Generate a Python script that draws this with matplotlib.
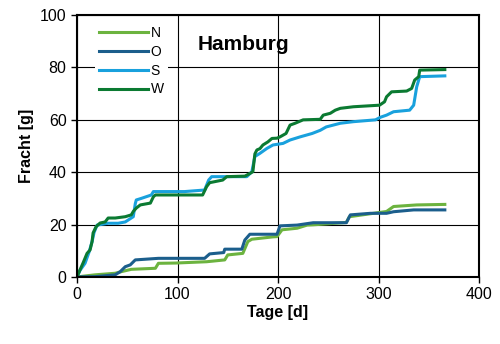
import matplotlib.pyplot as plt

plt.rcParams['font.family'] = ['Liberation Sans', 'DejaVu Sans']

# Werte (Tag, kumulierte Fracht in g)
n_tage = [0, 18, 38, 44, 54, 78, 81, 98, 129, 147, 150, 165, 170, 174, 195,
          199, 204, 219, 229, 235, 268, 271, 308, 315, 338, 366]
n_fracht = [0, 0.8, 1.4, 2, 2.9, 3.3, 5.2, 5.3, 5.8, 6.5, 8.4, 9, 13.5, 14.4, 15.3,
            15.4, 18, 18.6, 19.8, 19.9, 20.8, 23, 25, 26.9, 27.5, 27.7]

o_tage = [0, 18, 38, 43, 48, 53, 58, 81, 101, 127, 132, 146, 147, 164, 167,
          172, 199, 202, 219, 235, 268, 272, 292, 308, 315, 335, 366]
o_fracht = [0, 0.1, 0.8, 2, 3.9, 4.6, 6.5, 7.1, 7.1, 7.1, 8.8, 9.3, 10.6, 10.6, 14.1,
            16.3, 16.3, 19.5, 19.8, 20.7, 20.7, 23.7, 24.3, 24.3, 24.9, 25.6, 25.6]

s_tage = [0, 3, 8, 12, 15, 17, 20, 31, 41, 48, 56, 58, 59, 64, 74,
          76, 107, 127, 131, 134, 169, 174, 177, 182, 189, 195, 205, 212, 222,
          234, 242, 248, 262, 275, 297, 302, 308, 315, 331, 335, 338, 341, 366]
s_fracht = [0, 2.5, 5.2, 9.5, 13.5, 17, 19.8, 20.5, 20.5, 21, 23, 28, 29.4, 30, 31.3,
            32.6, 32.6, 33.2, 37, 38.3, 38.3, 40.2, 46, 47.2, 49.1, 50.4, 51, 52.3, 53.5,
            54.8, 56, 57.3, 58.7, 59.3, 60, 61, 61.8, 63.1, 63.7, 65.6, 72.6, 76.5, 76.8]

w_tage = [0, 3, 6, 10, 13, 15, 16, 19, 23, 28, 31, 38, 48, 54, 56, 59, 63, 73,
          76, 78, 107, 125, 129, 132, 145, 149, 167, 172, 175, 177, 179, 182, 185,
          190, 194, 199, 202, 208, 212, 217, 225, 242, 245, 252, 257, 262, 275,
          288, 301, 306, 308, 313, 328, 333, 336, 340, 341, 366]
w_fracht = [0, 2.7, 5.3, 9, 10.3, 13.5, 16.8, 19.2, 20.6, 21, 22.5, 22.5, 23, 23.7,
            25, 26.3, 27.5, 28.2, 30.6, 31.3, 31.3, 31.3, 34.5, 36, 37, 38.3, 38.5,
            39.5, 40.2, 47, 48.5, 49, 50.4, 51.6, 52.9, 53, 53.5, 54.8, 58, 58.7, 60,
            60.2, 61.8, 62.5, 63.7, 64.4, 65, 65.3, 65.6, 66.9, 68.8, 70.7, 71, 72,
            75.2, 76.5, 79, 79.2]

fig = plt.figure(figsize=(5, 3.44), dpi=100)
ax = fig.add_axes([0.154, 0.195, 0.804, 0.761])

lw = 2.2
ax.plot(n_tage, n_fracht, color='#6cb33f', lw=lw, label='N')
ax.plot(o_tage, o_fracht, color='#1b5e8c', lw=lw, label='O')
ax.plot(s_tage, s_fracht, color='#19a1dd', lw=lw, label='S')
ax.plot(w_tage, w_fracht, color='#0b7a32', lw=lw, label='W')

ax.set_xlim(0, 400)
ax.set_ylim(0, 100)
ax.set_xticks([0, 100, 200, 300, 400])
ax.set_yticks([0, 20, 40, 60, 80, 100])
ax.grid(True, color='black', lw=0.8)
ax.tick_params(labelsize=11.5, length=4, width=1, direction='out')
for sp in ax.spines.values():
    sp.set_linewidth(1.5)

ax.set_xlabel('Tage [d]', fontsize=11.5, fontweight='bold', labelpad=2)
ax.set_ylabel('Fracht [g]', fontsize=11.5, fontweight='bold', labelpad=4)

ax.text(120, 86.6, 'Hamburg', fontsize=15, fontweight='bold', va='baseline')

leg = ax.legend(loc='upper left', bbox_to_anchor=(0.045, 0.975), borderaxespad=0,
                fontsize=10, handlelength=3.5, handletextpad=0.2, labelspacing=0.35,
                borderpad=0.3, frameon=True, fancybox=False)
leg.get_frame().set_edgecolor('none')
leg.get_frame().set_facecolor('white')
leg.get_frame().set_alpha(1)

fig.savefig('out.png', dpi=100)
